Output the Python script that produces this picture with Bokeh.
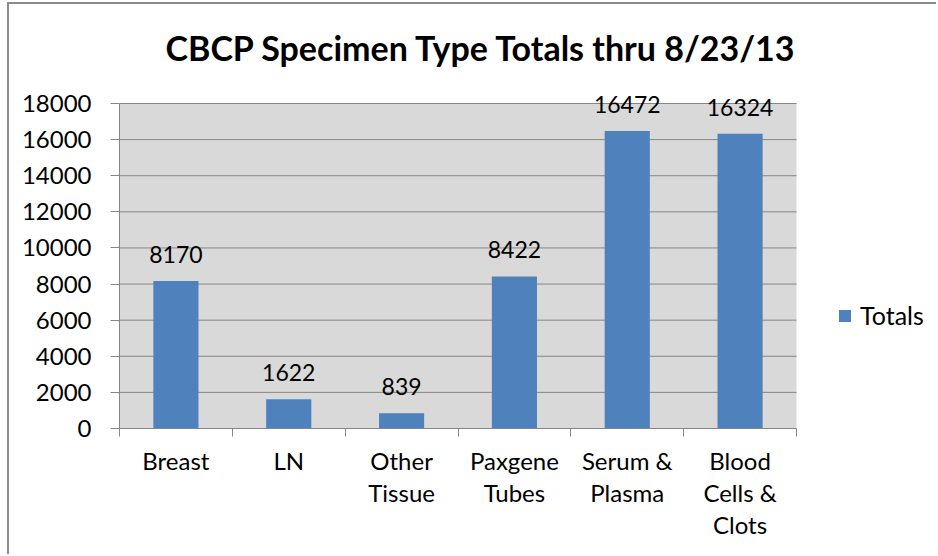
from bokeh.plotting import figure
from bokeh.models import (Range1d, LinearAxis, FixedTicker, ColumnDataSource, LabelSet)
from bokeh.core.properties import value
from bokeh.embed import file_html
from bokeh.resources import INLINE

categories = ["Breast", "LN", "Other Tissue", "Paxgene Tubes", "Serum & Plasma", "Blood Cells & Clots"]
label_line1 = ["Breast", "LN", "Other", "Paxgene", "Serum &", "Blood"]
label_line2 = ["", "", "Tissue", "Tubes", "Plasma", "Cells &"]
label_line3 = ["", "", "", "", "", "Clots"]
totals = [8170, 1622, 839, 8422, 16472, 16324]
y_ticks = [0, 2000, 4000, 6000, 8000, 10000, 12000, 14000, 16000, 18000]

FONT = "Lato"
GRID = "#868686"
BAR = "#4f81bd"
PLOT_BG = "#d9d9d9"

n = len(categories)
centers = [i + 0.5 for i in range(n)]
edges = list(range(n + 1))
y_max = y_ticks[-1]

# layout (pixels inside the figure)
W, H = 929, 552
AREA_L, AREA_R, AREA_T, AREA_B = 110, 787, 99, 424   # the gray plot area
FRAME_T = 84                                           # frame extends above / right of gray area
x_per_px = n / (AREA_R - AREA_L)
y_per_px = y_max / (AREA_B - AREA_T)
x_end = n + (W - AREA_R) * x_per_px
y_end = y_max + (AREA_T - FRAME_T) * y_per_px

source = ColumnDataSource(data=dict(x=centers, val=totals, txt=[str(v) for v in totals]))

p = figure(width=W, height=H, x_range=Range1d(0, x_end), y_range=Range1d(0, y_end),
           x_axis_location=None, output_backend="svg", toolbar_location=None,
           min_border_left=AREA_L, min_border_right=0, min_border_top=FRAME_T,
           min_border_bottom=H - AREA_B)
p.styles = {"border-top": "2px solid #8c8c8c", "border-left": "2px solid #8c8c8c",
            "margin-left": "7px", "margin-top": "2px",
            "margin-right": "-40px", "margin-bottom": "-40px"}

p.background_fill_color = "white"
p.border_fill_color = "white"
p.outline_line_color = None
p.xgrid.grid_line_color = None
p.ygrid.grid_line_color = None

p.title.text = "CBCP Specimen Type Totals thru 8/23/13"
p.title.text_font = FONT
p.title.text_font_size = "34px"
p.title.text_font_style = "bold"
p.title.text_color = "black"
p.title.align = "left"
p.title.offset = 46
p.title.standoff = 41

# gray plot area and horizontal gridlines (limited to the category span)
p.quad(left=[0], right=[n], bottom=[0], top=[y_max], fill_color=PLOT_BG, line_color=None)
p.segment(x0=[0] * len(y_ticks), x1=[n] * len(y_ticks), y0=y_ticks, y1=y_ticks,
          line_color=GRID, line_width=1)

r = p.vbar(x="x", top="val", width=0.4, source=source, fill_color=BAR, line_color=None,
           legend_label="Totals")

p.add_layout(LabelSet(x="x", y="val", text="txt", source=source, text_align="center",
                      text_baseline="alphabetic", y_offset=18, text_font=value(FONT),
                      text_font_size=value("23px"), text_color="black"))

# y axis
ya = p.yaxis[0]
ya.ticker = FixedTicker(ticks=y_ticks)
ya.bounds = (0, y_max)
ya.axis_line_color = GRID
ya.major_tick_line_color = GRID
ya.major_tick_out = 9
ya.major_tick_in = 0
ya.minor_tick_line_color = None
ya.major_label_text_font = FONT
ya.major_label_text_font_size = "24px"
ya.major_label_text_color = "black"
ya.major_label_standoff = 19

# category-boundary tick axis
edge_axis = LinearAxis(ticker=FixedTicker(ticks=edges), bounds=(0, n),
                       axis_line_color=GRID, major_tick_line_color=GRID, major_tick_out=8,
                       major_tick_in=0, minor_tick_line_color=None,
                       major_label_overrides={e: "" for e in edges},
                       major_label_text_font_size="1px", major_label_standoff=0)
p.add_layout(edge_axis, "below")

for i, lines in enumerate([label_line1, label_line2, label_line3]):
    ax = LinearAxis(ticker=FixedTicker(ticks=centers), axis_line_color=None,
                    major_tick_line_color=None, minor_tick_line_color=None,
                    major_label_overrides={c: (s if s else " ") for c, s in zip(centers, lines)},
                    major_label_text_font=FONT, major_label_text_font_size="24px",
                    major_label_text_color="black",
                    major_label_standoff=3 if i == 0 else -6)
    p.add_layout(ax, "below")

leg = p.legend[0]
leg.location = (718, 98)
leg.border_line_color = None
leg.background_fill_alpha = 0
leg.padding = 0
leg.margin = 0
leg.glyph_width = 15
leg.glyph_height = 15
leg.label_standoff = 8
leg.label_height = 15
leg.label_text_font = FONT
leg.label_text_font_size = "25px"
leg.label_text_color = "black"

open("out.html", "w").write(file_html(p, INLINE))
